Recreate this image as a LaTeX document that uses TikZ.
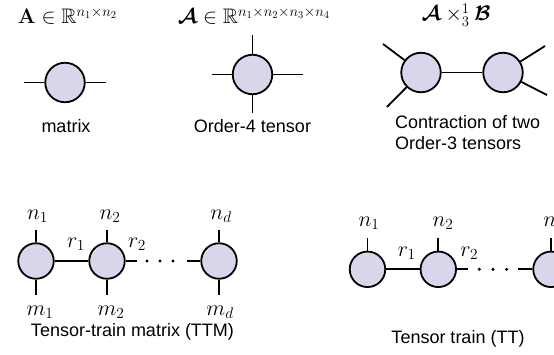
\RequirePackage{fix-cm}
\documentclass[tikz,border=0pt]{standalone}
\usepackage{amsmath,amssymb,bm}
\usepackage[no-math]{fontspec}
\setsansfont{Liberation Sans}
\definecolor{tnfill}{RGB}{217,213,234}
\begin{document}
\begin{tikzpicture}[x=1pt,y=-1pt,
  tn/.style={circle, draw=black, fill=tnfill, line width=1.8pt, inner sep=0pt, minimum size=39.5pt},
  tt/.style={tn, minimum size=35.5pt},
  leg/.style={line width=1.8pt},
  lbl/.style={font=\sffamily\fontsize{18}{21}\selectfont, inner sep=0pt},
  mlbl/.style={font=\fontsize{22}{26}\selectfont, inner sep=0pt},
  hdr/.style={font=\fontsize{21}{25}\selectfont, inner sep=0pt},
  tdot/.style={circle, fill=black, inner sep=0pt, minimum size=3.4pt}]
\useasboundingbox (0,0) rectangle (554,354);

% ---- top row: headers
\node[hdr] (h1) at (67.5,16) {$\mathbf{A}\in\mathbb{R}^{n_1\times n_2}$};
\node[hdr] (h2) at (254,16) {$\bm{\mathcal{A}}\in\mathbb{R}^{n_1\times n_2\times n_3\times n_4}$};
\node[hdr] (h3) at (456,15) {$\bm{\mathcal{A}}\times_3^1\bm{\mathcal{B}}$};

% ---- matrix
\node[tn] (mx) at (65,82.5) {};
\coordinate (mxl) at (24,82.5);
\coordinate (mxr) at (106,82.5);
\draw[leg] (mxl) -- (mx) -- (mxr);
\node[lbl] (cmx) at (66,126) {matrix};

% ---- order-4 tensor
\node[tn] (o4) at (252.5,74.5) {};
\coordinate (o4t) at (252.5,35);
\coordinate (o4b) at (252.5,113);
\coordinate (o4l) at (212,74.5);
\coordinate (o4r) at (303,74.5);
\draw[leg] (o4t) -- (o4);
\draw[leg] (o4b) -- (o4);
\draw[leg] (o4l) -- (o4);
\draw[leg] (o4r) -- (o4);
\node[lbl] (co4) at (252.5,126) {Order-4 tensor};

% ---- contraction of two order-3 tensors
\node[tn] (ca) at (421,72.5) {};
\node[tn] (cb) at (503,72.5) {};
\coordinate (cal1) at (383,44);
\coordinate (cal2) at (387,107);
\coordinate (cbr1) at (545,46);
\coordinate (cbr2) at (547,95);
\draw[leg] (ca) -- (cb);
\draw[leg] (cal1) -- (ca);
\draw[leg] (cal2) -- (ca);
\draw[leg] (cbr1) -- (cb);
\draw[leg] (cbr2) -- (cb);
\node[lbl, anchor=west, align=left] (cct) at (395,132.5) {Contraction of two\\Order-3 tensors};

% ---- tensor-train matrix
\node[tt] (p1) at (36,261) {};
\node[tt] (p2) at (107,261) {};
\node[tt] (p3) at (219,261) {};
\foreach \i/\x in {1/36,2/107,3/219}{
  \coordinate (p\i t) at (\x,230);
  \coordinate (p\i b) at (\x,295);
  \draw[leg] (p\i t) -- (p\i);
  \draw[leg] (p\i b) -- (p\i);
}
\draw[leg] (p1) -- (p2);
\coordinate (q1) at (137,261);
\coordinate (q2) at (187,261);
\draw[leg] (p2) -- (q1);
\draw[leg] (q2) -- (p3);
\node[tdot] (pd1) at (147,261) {};
\node[tdot] (pd2) at (160,261) {};
\node[tdot] (pd3) at (173,261) {};
\node[mlbl] (pn1) at (37.5,216) {$n_1$};
\node[mlbl] (pn2) at (110,216) {$n_2$};
\node[mlbl] (pnd) at (221,216) {$n_d$};
\node[mlbl] (pm1) at (40,312) {$m_1$};
\node[mlbl] (pm2) at (111,312) {$m_2$};
\node[mlbl] (pmd) at (220,312) {$m_d$};
\node[mlbl] (pr1) at (76,244) {$r_1$};
\node[mlbl] (pr2) at (137,244) {$r_2$};
\node[lbl] (cttm) at (132.5,332) {Tensor-train matrix (TTM)};

% ---- tensor train
\node[tt] (t1) at (367.5,269.3) {};
\node[tt] (t2) at (438.3,269.3) {};
\node[tt] (t3) at (551,269.3) {};
\foreach \i/\x in {1/367.5,2/438.3,3/551}{
  \coordinate (t\i t) at (\x,238);
  \draw[leg] (t\i t) -- (t\i);
}
\draw[leg] (t1) -- (t2);
\coordinate (u1) at (468,269.3);
\coordinate (u2) at (518,269.3);
\draw[leg] (t2) -- (u1);
\draw[leg] (u2) -- (t3);
\node[tdot] (td1) at (479.3,269.3) {};
\node[tdot] (td2) at (493,269.3) {};
\node[tdot] (td3) at (506.7,269.3) {};
\node[mlbl] (tn1) at (369,223) {$n_1$};
\node[mlbl] (tn2) at (443,223) {$n_2$};
\node[mlbl] (tnd) at (554,223) {$n_d$};
\node[mlbl] (tr1) at (406.7,253) {$r_1$};
\node[mlbl] (tr2) at (469.3,253) {$r_2$};
\node[lbl] (ctt) at (458,339) {Tensor train (TT)};
\end{tikzpicture}
\end{document}
